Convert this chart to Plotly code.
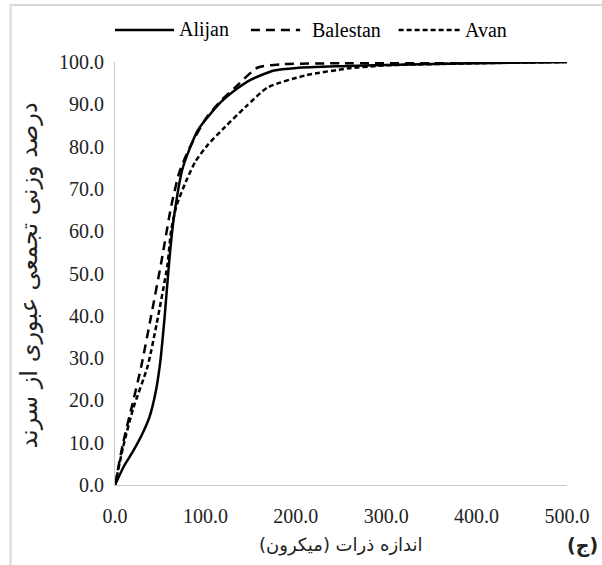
import plotly.graph_objects as go

# ---- data ----
alijan_x = [0, 10, 20, 30, 38, 45, 50, 55, 60, 65, 75, 92, 117, 133, 150, 176, 201, 250, 300, 400, 500]
alijan_y = [0, 4.5, 8, 12, 16, 22, 29, 40, 53, 63, 75, 84, 90.5, 93.4, 95.8, 98, 98.6, 99, 99.3, 99.7, 100]

balestan_x = [0, 9, 19.6, 29, 40, 51, 62, 71, 82, 100, 117, 133, 158, 187, 250, 350, 500]
balestan_y = [0, 10, 19.4, 28, 40, 52.4, 65.7, 73.8, 79.5, 86.5, 90.8, 94, 98.7, 99.5, 99.7, 99.8, 100]

avan_x = [0, 9, 20, 36, 46, 58, 62, 68, 79, 89, 103, 122, 145, 169, 212, 259, 300, 400, 500]
avan_y = [0, 9, 18, 28, 38, 52, 60, 66, 72, 76.5, 80.5, 84.7, 89.5, 94, 96.9, 98.5, 99.2, 99.7, 100]

x_ticks = [0, 100, 200, 300, 400, 500]
y_ticks = [0, 10, 20, 30, 40, 50, 60, 70, 80, 90, 100]

series_names = ["Alijan", "Balestan", "Avan"]
series_x = [alijan_x, balestan_x, avan_x]
series_y = [alijan_y, balestan_y, avan_y]
series_dash = ["solid", "9px,6px", "5px,3px"]

serif = "Liberation Serif"

fig = go.Figure()
for name, xs, ys, dash in zip(series_names, series_x, series_y, series_dash):
    fig.add_trace(go.Scatter(
        x=xs, y=ys, mode="lines", name=name, showlegend=False,
        line=dict(color="black", width=2.5, dash=dash, shape="spline", smoothing=0.6),
    ))

# manual legend (line samples longer than plotly's built-in symbols)
PLOT_L, PLOT_W, PLOT_B, PLOT_H = 115, 459, 485, 423
def px_x(p):
    return (p - PLOT_L) / PLOT_W
def px_y(p):
    return (PLOT_B - p) / PLOT_H

legend_line_px = [(115, 175), (253, 303), (403, 467)]
legend_text_px = [178, 313, 468]
legend_y = px_y(30)

shapes = [dict(type="rect", xref="paper", yref="paper",
               x0=px_x(9), x1=2.0, y0=-2.0, y1=px_y(5),
               line=dict(color="#d9d9d9", width=2), fillcolor="rgba(0,0,0,0)", layer="below")]
annotations = []
for name, dash, (a, b), t in zip(series_names, series_dash, legend_line_px, legend_text_px):
    shapes.append(dict(type="line", xref="paper", yref="paper",
                       x0=px_x(a), x1=px_x(b), y0=legend_y, y1=legend_y,
                       line=dict(color="black", width=2.5, dash=dash)))
    annotations.append(dict(text=name, xref="paper", yref="paper", x=px_x(t), y=legend_y,
                            xanchor="left", yanchor="middle", showarrow=False,
                            font=dict(family=serif, size=20, color="black")))

annotations += [
    dict(text="درصد وزنی تجمعی عبوری از سرند", xref="paper", yref="paper",
         x=px_x(28), y=0.496, textangle=-90, showarrow=False,
         font=dict(family="DejaVu Sans, Noto Sans", size=24, color="#222"),
         xanchor="center", yanchor="middle"),
    dict(text="اندازه ذرات (میکرون)", xref="paper", yref="paper",
         x=px_x(345), y=px_y(545), showarrow=False,
         font=dict(family="DejaVu Sans, Noto Sans", size=18, color="#222"),
         xanchor="center", yanchor="middle"),
    dict(text="<b>(ج)</b>", xref="paper", yref="paper",
         x=px_x(572), y=px_y(545), showarrow=False,
         font=dict(family="DejaVu Sans, Noto Sans", size=19, color="#222"),
         xanchor="left", yanchor="middle"),
]

tick_font = dict(family=serif, size=20, color="#222")

fig.update_layout(
    width=602, height=565,
    margin=dict(l=115, r=28, t=62, b=80),
    paper_bgcolor="white", plot_bgcolor="white",
    font=dict(family=serif),
    showlegend=False,
    xaxis=dict(
        range=[0, 500], tickvals=x_ticks, ticktext=[f"{v:.1f}" for v in x_ticks],
        showgrid=False, zeroline=False, showline=True, linecolor="#c8c8c8", linewidth=1,
        ticks="", tickfont=tick_font, ticklabelstandoff=13,
    ),
    yaxis=dict(
        range=[0, 100], tickvals=y_ticks, ticktext=[f"{v:.1f}" for v in y_ticks],
        showgrid=False, zeroline=False, showline=True, linecolor="#c8c8c8", linewidth=1,
        ticks="", tickfont=tick_font, ticklabelstandoff=6,
    ),
    shapes=shapes,
    annotations=annotations,
)

fig.write_html("out.html")
